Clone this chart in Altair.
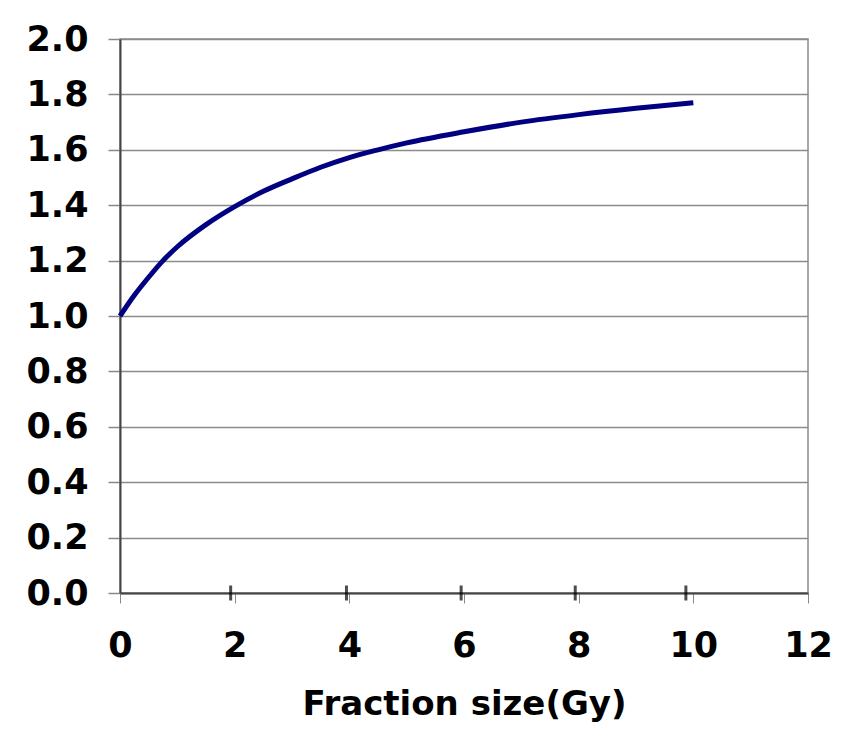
import altair as alt
import pandas as pd

# Curve values
fraction_size = [0, 0.25, 0.5, 0.75, 1.0, 1.5, 2.0, 2.5, 3.0, 3.5, 4.0, 4.5, 5.0, 6.0, 7.0, 8.0, 9.0, 10.0]
ratio = [1.0, 1.075, 1.14, 1.20, 1.25, 1.33, 1.395, 1.45, 1.495, 1.537, 1.572, 1.60, 1.625, 1.665, 1.70, 1.727, 1.75, 1.77]

# Short black marks sitting on the x axis in the reference
marker_x = [1.93, 3.95, 5.95, 7.94, 9.87]

x_ticks = [0, 2, 4, 6, 8, 10, 12]
y_ticks = [0.0, 0.2, 0.4, 0.6, 0.8, 1.0, 1.2, 1.4, 1.6, 1.8, 2.0]

df = pd.DataFrame({"x": fraction_size, "y": ratio})
dm = pd.DataFrame({"x": marker_x, "y": [0.0] * len(marker_x)})

FONT = "DejaVu Sans"

xscale = alt.Scale(domain=[0, 12], nice=False, zero=True)
yscale = alt.Scale(domain=[0, 2], nice=False)

line = alt.Chart(df).mark_line(color="#000080", strokeWidth=5, interpolate="monotone").encode(
    x=alt.X("x:Q", scale=xscale,
            axis=alt.Axis(values=x_ticks, title="Fraction size(Gy)", format="d",
                          grid=False, tickSize=10, tickColor="#888888", tickWidth=1,
                          labelPadding=25, titlePadding=24, labelFlush=False,
                          labelFont=FONT, labelFontSize=35, labelFontWeight="bold", labelColor="black",
                          titleFont=FONT, titleFontSize=34, titleFontWeight="bold", titleColor="black",
                          domainColor="#444444", domainWidth=2)),
    y=alt.Y("y:Q", scale=yscale,
            axis=alt.Axis(values=y_ticks, title=None, format=".1f",
                          grid=True, gridColor="#8c8c8c", gridWidth=1.5,
                          tickSize=12, tickColor="#888888", tickWidth=1.5,
                          labelPadding=20, labelFlush=False,
                          labelFont=FONT, labelFontSize=35, labelFontWeight="bold", labelColor="black",
                          domainColor="#444444", domainWidth=2)),
)

marks = alt.Chart(dm).mark_tick(color="black", thickness=3, size=15, orient="vertical").encode(
    x=alt.X("x:Q", scale=xscale),
    y=alt.Y("y:Q", scale=yscale),
)

chart = alt.layer(line, marks).properties(
    width=688, height=554,
    background="white",
    autosize=alt.AutoSizeParams(type="none"),
    padding={"left": 112, "top": 31, "right": 24, "bottom": 136},
).configure_view(
    stroke="#8c8c8c", strokeWidth=1.5
)

chart.save("out.html", embed_options={"renderer": "svg", "actions": False})
